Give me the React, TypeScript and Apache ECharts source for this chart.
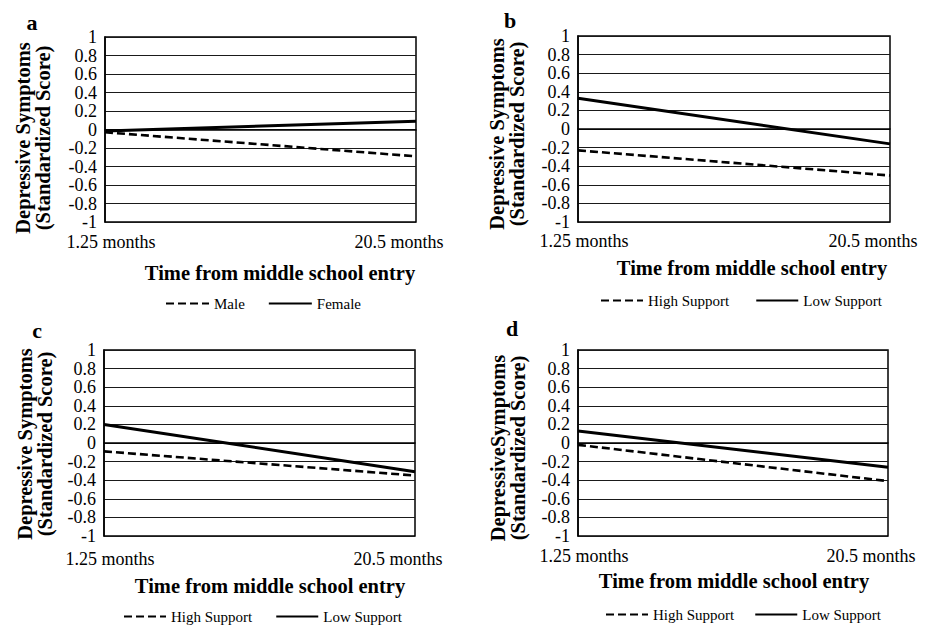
import React, { useEffect, useRef } from "react";
import * as echarts from "echarts";

const timeLabels = ["1.25 months", "20.5 months"];
const yTicks = { min: -1, max: 1, interval: 0.2 };

const maleA = [-0.03, -0.29];
const femaleA = [-0.015, 0.09];
const highB = [-0.23, -0.5];
const lowB = [0.33, -0.16];
const highC = [-0.09, -0.35];
const lowC = [0.2, -0.31];
const highD = [-0.02, -0.41];
const lowD = [0.13, -0.26];

const panelLetters = ["a", "b", "c", "d"];
const xTitle = "Time from middle school entry";
const yTitleABC = "Depressive Symptoms\n(Standardized Score)";
const yTitleD = "DepressiveSymptoms\n(Standardized Score)";

const FONT = "'Liberation Serif', 'Times New Roman', serif";

export default function App() {
  const ref = useRef<HTMLDivElement>(null);
  useEffect(() => {
    document.body.style.margin = "0";
    if (!ref.current) return;
    const chart = echarts.init(ref.current, undefined, { renderer: "svg" });

    const grids = [
      { left: 105, top: 37, width: 311, height: 185 },
      { left: 578, top: 36, width: 312, height: 186 },
      { left: 104, top: 350, width: 311, height: 186 },
      { left: 578, top: 350, width: 310, height: 186 },
    ];
    const labelMargins = [11, 10, 14, 11];

    const xAxes = grids.map((_, i) => ({
      type: "category",
      gridIndex: i,
      data: timeLabels,
      boundaryGap: false,
      axisTick: { show: false },
      axisLine: { show: true, lineStyle: { color: "#000", width: 1.5 } },
      axisLabel: {
        margin: labelMargins[i],
        color: "#000",
        fontFamily: FONT,
        fontSize: 18,
        formatter: (v: string, idx: number) => (idx === 0 ? `{l|${v}}` : `{r|${v}}`),
        rich: {
          l: { padding: [0, 0, 0, 12], fontFamily: FONT, fontSize: 18, color: "#000" },
          r: { padding: [0, 34, 0, 0], fontFamily: FONT, fontSize: 18, color: "#000" },
        },
      },
      splitLine: { show: false },
    }));

    const yAxes = grids.map((_, i) => ({
      type: "value",
      gridIndex: i,
      min: yTicks.min,
      max: yTicks.max,
      interval: yTicks.interval,
      axisTick: { show: false },
      axisLine: { show: true, lineStyle: { color: "#000", width: 1.5 } },
      axisLabel: {
        margin: 8,
        color: "#000",
        fontFamily: FONT,
        fontSize: 18,
        formatter: (v: number) => String(Math.round(v * 10) / 10),
      },
      splitLine: { show: true, lineStyle: { color: "#1a1a1a", width: 1 } },
    }));

    const dashed = { color: "#000", width: 2.6, type: [8, 4] as any };
    const solid = { color: "#000", width: 3, type: "solid" };
    const mk = (name: string, data: number[], idx: number, ls: any) => ({
      type: "line",
      name,
      data,
      xAxisIndex: idx,
      yAxisIndex: idx,
      symbol: "none",
      showSymbol: false,
      lineStyle: ls,
      itemStyle: { color: "#000" },
      z: 5,
    });

    const series = [
      mk("Male", maleA, 0, dashed),
      mk("Female", femaleA, 0, solid),
      mk("High Support", highB, 1, dashed),
      mk("Low Support", lowB, 1, solid),
      mk("High Support", highC, 2, dashed),
      mk("Low Support", lowC, 2, solid),
      mk("High Support", highD, 3, dashed),
      mk("Low Support", lowD, 3, solid),
    ];

    const legendBase = {
      orient: "horizontal",
      padding: 0,
      itemHeight: 14,
      textStyle: { fontFamily: FONT, fontSize: 15, color: "#000" },
      itemStyle: { color: "transparent", borderColor: "transparent", borderWidth: 0, opacity: 0 },
      selectedMode: false,
    };
    const legends = [
      { ...legendBase, left: 165, top: 296, itemWidth: 43, itemGap: 23, data: ["Male", "Female"] },
      { ...legendBase, left: 600, top: 293, itemWidth: 42, itemGap: 26, data: ["High Support", "Low Support"] },
      { ...legendBase, left: 123, top: 609, itemWidth: 42, itemGap: 23, data: ["High Support", "Low Support"] },
      { ...legendBase, left: 605, top: 607, itemWidth: 42, itemGap: 20, data: ["High Support", "Low Support"] },
    ];

    const letterPos = [
      [32, 22],
      [510, 20],
      [37, 330],
      [512, 328],
    ];
    const xTitlePos = [
      [280, 273],
      [752, 268],
      [270, 586],
      [734, 581],
    ];
    const yTitlePos = [
      [33, 138],
      [507, 134],
      [35, 444],
      [508, 448],
    ];

    const graphic: any[] = [];
    panelLetters.forEach((l, i) => {
      graphic.push({
        type: "text",
        x: letterPos[i][0],
        y: letterPos[i][1],
        style: {
          text: l,
          fontFamily: FONT,
          fontSize: 22,
          fontWeight: "bold",
          fill: "#000",
          align: "center",
          verticalAlign: "middle",
        },
      });
      graphic.push({
        type: "text",
        x: xTitlePos[i][0],
        y: xTitlePos[i][1],
        style: {
          text: xTitle,
          fontFamily: FONT,
          fontSize: 20.5,
          fontWeight: "bold",
          fill: "#000",
          align: "center",
          verticalAlign: "middle",
        },
      });
      graphic.push({
        type: "text",
        x: yTitlePos[i][0],
        y: yTitlePos[i][1],
        rotation: Math.PI / 2,
        style: {
          text: i === 3 ? yTitleD : yTitleABC,
          fontFamily: FONT,
          fontSize: 20.5,
          lineHeight: 20,
          fontWeight: "bold",
          fill: "#000",
          align: "center",
          verticalAlign: "middle",
        },
      });
    });

    chart.setOption({
      animation: false,
      backgroundColor: "#fff",
      grid: grids.map((g) => ({ ...g, show: true, borderColor: "#000", borderWidth: 1.5, containLabel: false })),
      xAxis: xAxes,
      yAxis: yAxes,
      legend: legends,
      series,
      graphic,
    } as any);

    return () => chart.dispose();
  }, []);

  return <div ref={ref} style={{ width: 930, height: 628 }} />;
}
